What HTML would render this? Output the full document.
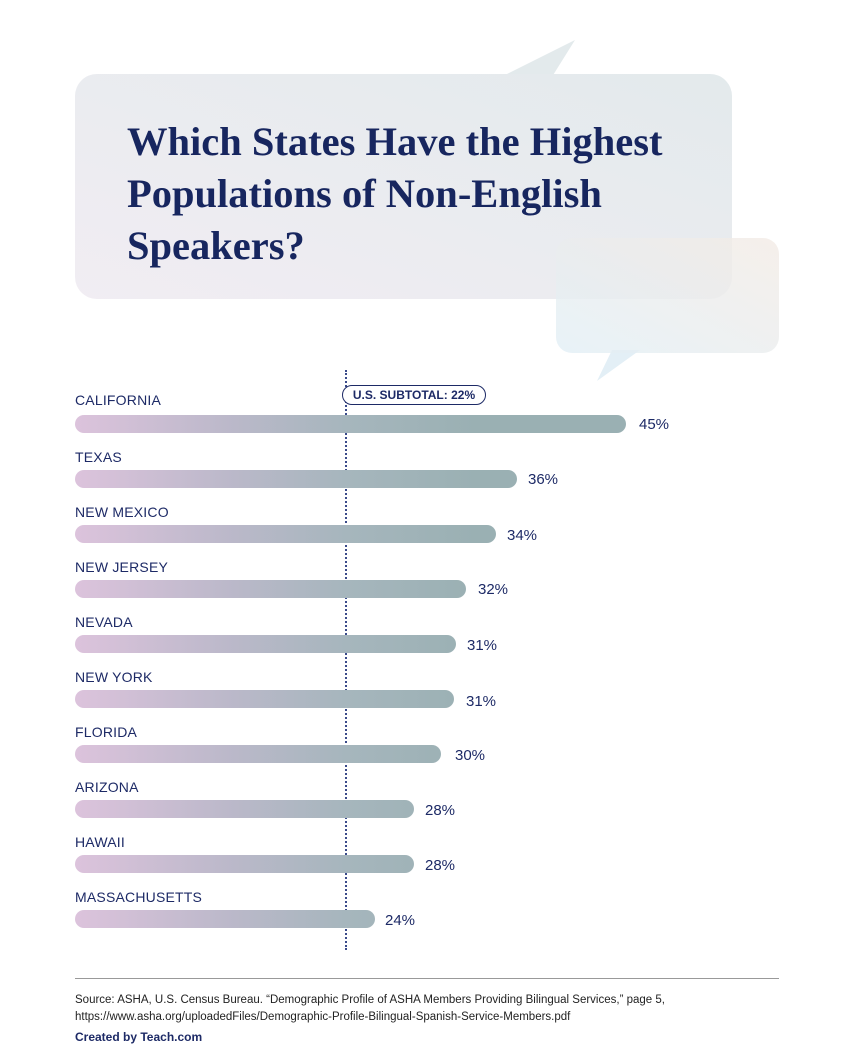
<!DOCTYPE html>
<html><head><style>
body{margin:0;width:854px;height:1060px;background:#fff;position:relative;overflow:hidden;font-family:"Liberation Sans",sans-serif;color:#1d2a66}
.abs{position:absolute}
.lab{position:absolute;left:75px;font-size:14px;letter-spacing:0.2px;color:#1d2a66}
.bar{position:absolute;left:75px;height:18px;border-radius:9px;background:linear-gradient(90deg,#dcc3dc 0px,#bab8c9 160px,#a6b6bd 271px,#9ab0b3 400px,#9ab0b3 560px)}
.val{position:absolute;font-size:15px;color:#1d2a66}
</style></head><body>
<svg class="abs" style="left:0;top:0" width="854" height="390">
<defs>
<linearGradient id="g1" x1="0" y1="1" x2="1" y2="0"><stop offset="0" stop-color="#f1edf3"/><stop offset="1" stop-color="#e3eaec"/></linearGradient>
<linearGradient id="g2" x1="0" y1="1" x2="1" y2="0"><stop offset="0" stop-color="#e2eff6"/><stop offset="1" stop-color="#f3ebe5"/></linearGradient>
</defs>
<polygon points="505,75 575,40 550,80" fill="#e3eaec"/>
<rect x="75" y="74" width="657" height="225" rx="22" fill="url(#g1)"/>
<polygon points="612,350 640,350 597,381" fill="#e3eff6"/>
<rect x="556" y="238" width="223" height="115" rx="16" fill="url(#g2)" opacity="0.8"/>
</svg>
<div class="abs" style="left:127px;top:116px;font-family:'Liberation Serif',serif;font-weight:bold;font-size:40.5px;line-height:52px;color:#17265f">Which States Have the Highest<br>Populations of Non-English<br>Speakers?</div>

<div class="abs" style="left:345px;top:370px;height:580px;border-left:2px dotted #3a4a8a"></div>
<div class="abs" style="left:342px;top:385px;width:142px;height:18px;border:1.5px solid #1d2a66;border-radius:10px;background:#fff;font-size:12px;font-weight:bold;text-align:center;line-height:18px">U.S. SUBTOTAL: 22%</div>

<div class="lab" style="top:392px">CALIFORNIA</div><div class="bar" style="top:415px;width:551px"></div><div class="val" style="left:639px;top:416px">45%</div>
<div class="lab" style="top:449px">TEXAS</div><div class="bar" style="top:470px;width:442px"></div><div class="val" style="left:528px;top:471px">36%</div>
<div class="lab" style="top:504px">NEW MEXICO</div><div class="bar" style="top:525px;width:421px"></div><div class="val" style="left:507px;top:527px">34%</div>
<div class="lab" style="top:559px">NEW JERSEY</div><div class="bar" style="top:580px;width:391px"></div><div class="val" style="left:478px;top:581px">32%</div>
<div class="lab" style="top:614px">NEVADA</div><div class="bar" style="top:635px;width:381px"></div><div class="val" style="left:467px;top:637px">31%</div>
<div class="lab" style="top:669px">NEW YORK</div><div class="bar" style="top:690px;width:379px"></div><div class="val" style="left:466px;top:693px">31%</div>
<div class="lab" style="top:724px">FLORIDA</div><div class="bar" style="top:745px;width:366px"></div><div class="val" style="left:455px;top:747px">30%</div>
<div class="lab" style="top:779px">ARIZONA</div><div class="bar" style="top:800px;width:339px"></div><div class="val" style="left:425px;top:802px">28%</div>
<div class="lab" style="top:834px">HAWAII</div><div class="bar" style="top:855px;width:339px"></div><div class="val" style="left:425px;top:857px">28%</div>
<div class="lab" style="top:889px">MASSACHUSETTS</div><div class="bar" style="top:910px;width:300px"></div><div class="val" style="left:385px;top:912px">24%</div>

<div class="abs" style="left:75px;top:978px;width:704px;border-top:1px solid #999"></div>
<div class="abs" style="left:75px;top:992px;font-size:11.5px;line-height:17px;color:#222">Source: ASHA, U.S. Census Bureau. “Demographic Profile of ASHA Members Providing Bilingual Services,” page 5,<br>https://www.asha.org/uploadedFiles/Demographic-Profile-Bilingual-Spanish-Service-Members.pdf</div>
<div class="abs" style="left:75px;top:1030px;font-size:12px;font-weight:bold;color:#1d2a66">Created by Teach.com</div>
</body></html>
